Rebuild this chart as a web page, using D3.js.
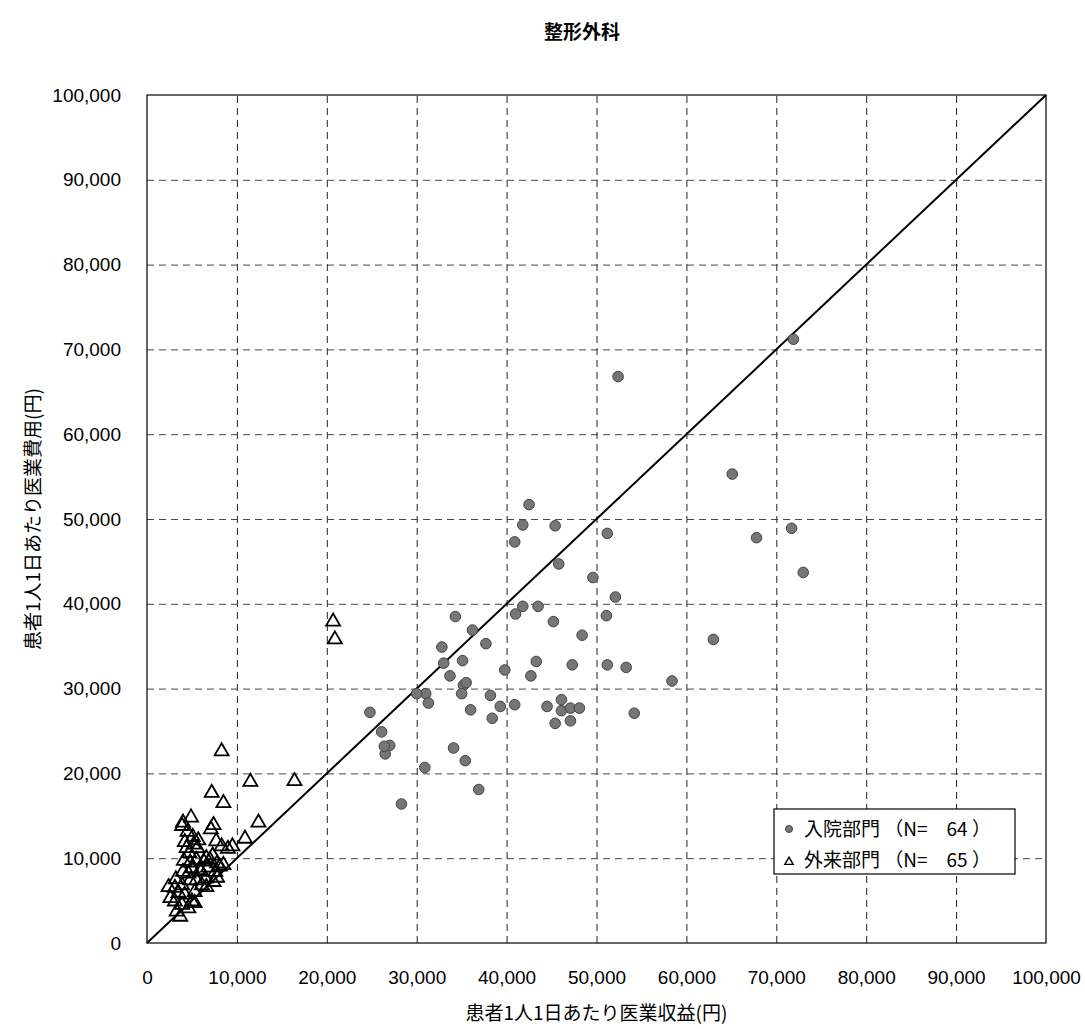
<!DOCTYPE html>
<html>
<head>
<meta charset="utf-8">
<script src="https://cdn.jsdelivr.net/npm/d3@7"></script>
<style>
  body { margin: 0; background: #fff; }
  svg { display: block; }
</style>
</head>
<body>
<svg width="1085" height="1029"></svg>
<script>
// 入院部門 (inpatient) revenue / cost per patient-day, yen
const inpatientRevenue = [71900, 52400, 65100, 42500, 41800, 40900, 45400, 51200, 67800, 71700,
  73000, 45800, 49600, 52100, 43500, 41000, 41800, 34300, 36200, 37700,
  32800, 35100, 33000, 33700, 39800, 43300, 42700, 51100, 45200, 48400,
  63000, 47300, 51200, 53300, 58400, 35200, 35000, 31000, 31300, 38200,
  39300, 40900, 44500, 36000, 38400, 46100, 46100, 47100, 48100, 45400,
  47100, 54200, 24800, 26100, 27000, 26500, 34100, 35400, 30900, 36900,
  28300, 30000, 26400, 35500]
const inpatientCost = [71200, 66800, 55300, 51700, 49300, 47300, 49200, 48300, 47800, 48900,
  43700, 44700, 43100, 40800, 39700, 38800, 39700, 38500, 36900, 35300,
  34900, 33300, 33000, 31500, 32200, 33200, 31500, 38600, 37900, 36300,
  35800, 32800, 32800, 32500, 30900, 30400, 29400, 29400, 28300, 29200,
  27900, 28100, 27900, 27500, 26500, 28700, 27400, 27700, 27700, 25900,
  26200, 27100, 27200, 24900, 23300, 22300, 23000, 21500, 20700, 18100,
  16400, 29400, 23200, 30700]

// 外来部門 (outpatient)
const outpatientRevenue = [8300, 11500, 16400, 7200, 8500, 12400, 4900, 4000, 7400, 7100,
  4500, 5100, 4200, 5200, 5600, 7700, 8300, 9000, 10900, 4400,
  4100, 4800, 5500, 6300, 7000, 7800, 8500, 5000, 5900, 6800,
  7600, 4600, 6500, 5500, 7400, 6100, 2400, 3100, 3900, 3500,
  4200, 5300, 3100, 3900, 5000, 3300, 3700, 4600, 20700, 20900,
  6600, 8100, 6000, 4000, 4800, 6600, 5300, 3900, 5700, 9500,
  3200, 7300, 4700, 2600, 7800]
const outpatientCost = [22600, 19000, 19100, 17700, 16500, 14200, 14800, 14200, 13900, 13400,
  13100, 12500, 11900, 11600, 11200, 12000, 11400, 11100, 12300, 11200,
  9700, 9500, 9800, 9600, 9800, 9400, 9200, 8800, 8600, 8900,
  8400, 8200, 7600, 7400, 7200, 6800, 6600, 6500, 6800, 5900,
  5700, 6000, 4900, 4500, 4900, 3700, 3100, 4100, 37900, 35800,
  10000, 9000, 8400, 8400, 7400, 6600, 4700, 13800, 12100, 11400,
  7500, 10300, 10600, 5300, 7700]

const axisTicks = d3.range(0, 100001, 10000)
const chartTitle = '整形外科'
const xTitle = '患者1人1日あたり医業収益(円)'
const yTitle = '患者1人1日あたり医業費用(円)'
const legendLabels = ['入院部門 （N=\u200364 ）', '外来部門 （N=\u200365 ）']

const svg = d3.select('svg')
const margin = {top: 95, left: 147, right: 39, bottom: 86}
const width = +svg.attr('width') - margin.left - margin.right
const height = +svg.attr('height') - margin.top - margin.bottom

const numFont = '"Liberation Sans", Arial, sans-serif'
const jpFont = '"Noto Sans CJK JP", sans-serif'

const g = svg.append('g')
  .attr('transform', 'translate(' + margin.left + ',' + margin.top + ')')

const x = d3.scaleLinear().domain([0, 100000]).range([0, width])
const y = d3.scaleLinear().domain([0, 100000]).range([height, 0])

// dashed grid
g.append('g')
  .attr('class', 'grid')
  .attr('transform', 'translate(0,' + height + ')')
  .call(d3.axisBottom(x).tickValues(axisTicks.slice(1, -1)).tickSize(-height).tickFormat(''))
  .call(s => s.select('.domain').remove())
  .selectAll('line')
  .attr('stroke', '#222')
  .attr('stroke-dasharray', '7,5')

g.append('g')
  .attr('class', 'grid')
  .call(d3.axisLeft(y).tickValues(axisTicks.slice(1, -1)).tickSize(-width).tickFormat(''))
  .call(s => s.select('.domain').remove())
  .selectAll('line')
  .attr('stroke', '#444')
  .attr('stroke-dasharray', '7,5')

// plot frame
g.append('rect')
  .attr('width', width)
  .attr('height', height)
  .attr('fill', 'none')
  .attr('stroke', '#000')
  .attr('stroke-width', 1.2)

// axes (labels only)
const xAxis = g.append('g')
  .attr('transform', 'translate(0,' + height + ')')
  .call(d3.axisBottom(x).tickValues(axisTicks).tickSize(0).tickPadding(28).tickFormat(d3.format(',')))
xAxis.select('.domain').remove()

const yAxis = g.append('g')
  .call(d3.axisLeft(y).tickValues(axisTicks).tickSize(0).tickPadding(26).tickFormat(d3.format(',')))
yAxis.select('.domain').remove()

svg.selectAll('.tick text')
  .attr('font-family', numFont)
  .attr('font-size', 19)
  .attr('fill', '#000')

// y = x reference line
g.append('line')
  .attr('x1', x(0)).attr('y1', y(0))
  .attr('x2', x(100000)).attr('y2', y(100000))
  .attr('stroke', '#000')
  .attr('stroke-width', 2)

const inpatient = inpatientRevenue.map((v, i) => ({rev: v, cost: inpatientCost[i]}))
const outpatient = outpatientRevenue.map((v, i) => ({rev: v, cost: outpatientCost[i]}))

const tri = d3.symbol().type(d3.symbolTriangle).size(85)

g.append('g').selectAll('path')
  .data(outpatient)
  .enter().append('path')
  .attr('d', tri)
  .attr('transform', d => 'translate(' + x(d.rev) + ',' + y(d.cost) + ')')
  .attr('fill', 'none')
  .attr('stroke', '#000')
  .attr('stroke-width', 1.8)

g.append('g').selectAll('circle')
  .data(inpatient)
  .enter().append('circle')
  .attr('cx', d => x(d.rev))
  .attr('cy', d => y(d.cost))
  .attr('r', 5.3)
  .attr('fill', '#767676')
  .attr('stroke', '#444')
  .attr('stroke-width', 1)

// titles
svg.append('text')
  .attr('x', 582).attr('y', 39)
  .attr('text-anchor', 'middle')
  .attr('font-family', jpFont)
  .attr('font-size', 19)
  .attr('font-weight', 'bold')
  .text(chartTitle)

svg.append('text')
  .attr('x', margin.left + width / 2).attr('y', 1020)
  .attr('text-anchor', 'middle')
  .attr('font-family', jpFont)
  .attr('font-size', 19)
  .text(xTitle)

svg.append('text')
  .attr('transform', 'translate(40,' + (margin.top + height / 2) + ') rotate(-90)')
  .attr('text-anchor', 'middle')
  .attr('font-family', jpFont)
  .attr('font-size', 19)
  .text(yTitle)

// legend
const legend = svg.append('g').attr('transform', 'translate(774,809)')
legend.append('rect')
  .attr('width', 241).attr('height', 65)
  .attr('fill', '#fff')
  .attr('stroke', '#000')
  .attr('stroke-width', 1.2)

legend.append('circle')
  .attr('cx', 15).attr('cy', 20).attr('r', 3.5)
  .attr('fill', '#767676').attr('stroke', '#444')

legend.append('path')
  .attr('d', d3.symbol().type(d3.symbolTriangle).size(30))
  .attr('transform', 'translate(15,53)')
  .attr('fill', 'none').attr('stroke', '#000').attr('stroke-width', 1.4)

legend.selectAll('text.lbl')
  .data(legendLabels)
  .enter().append('text')
  .attr('class', 'lbl')
  .attr('x', 30)
  .attr('y', (d, i) => 27 + i * 31)
  .attr('font-family', jpFont)
  .attr('font-size', 19)
  .text(d => d)
</script>
</body>
</html>
